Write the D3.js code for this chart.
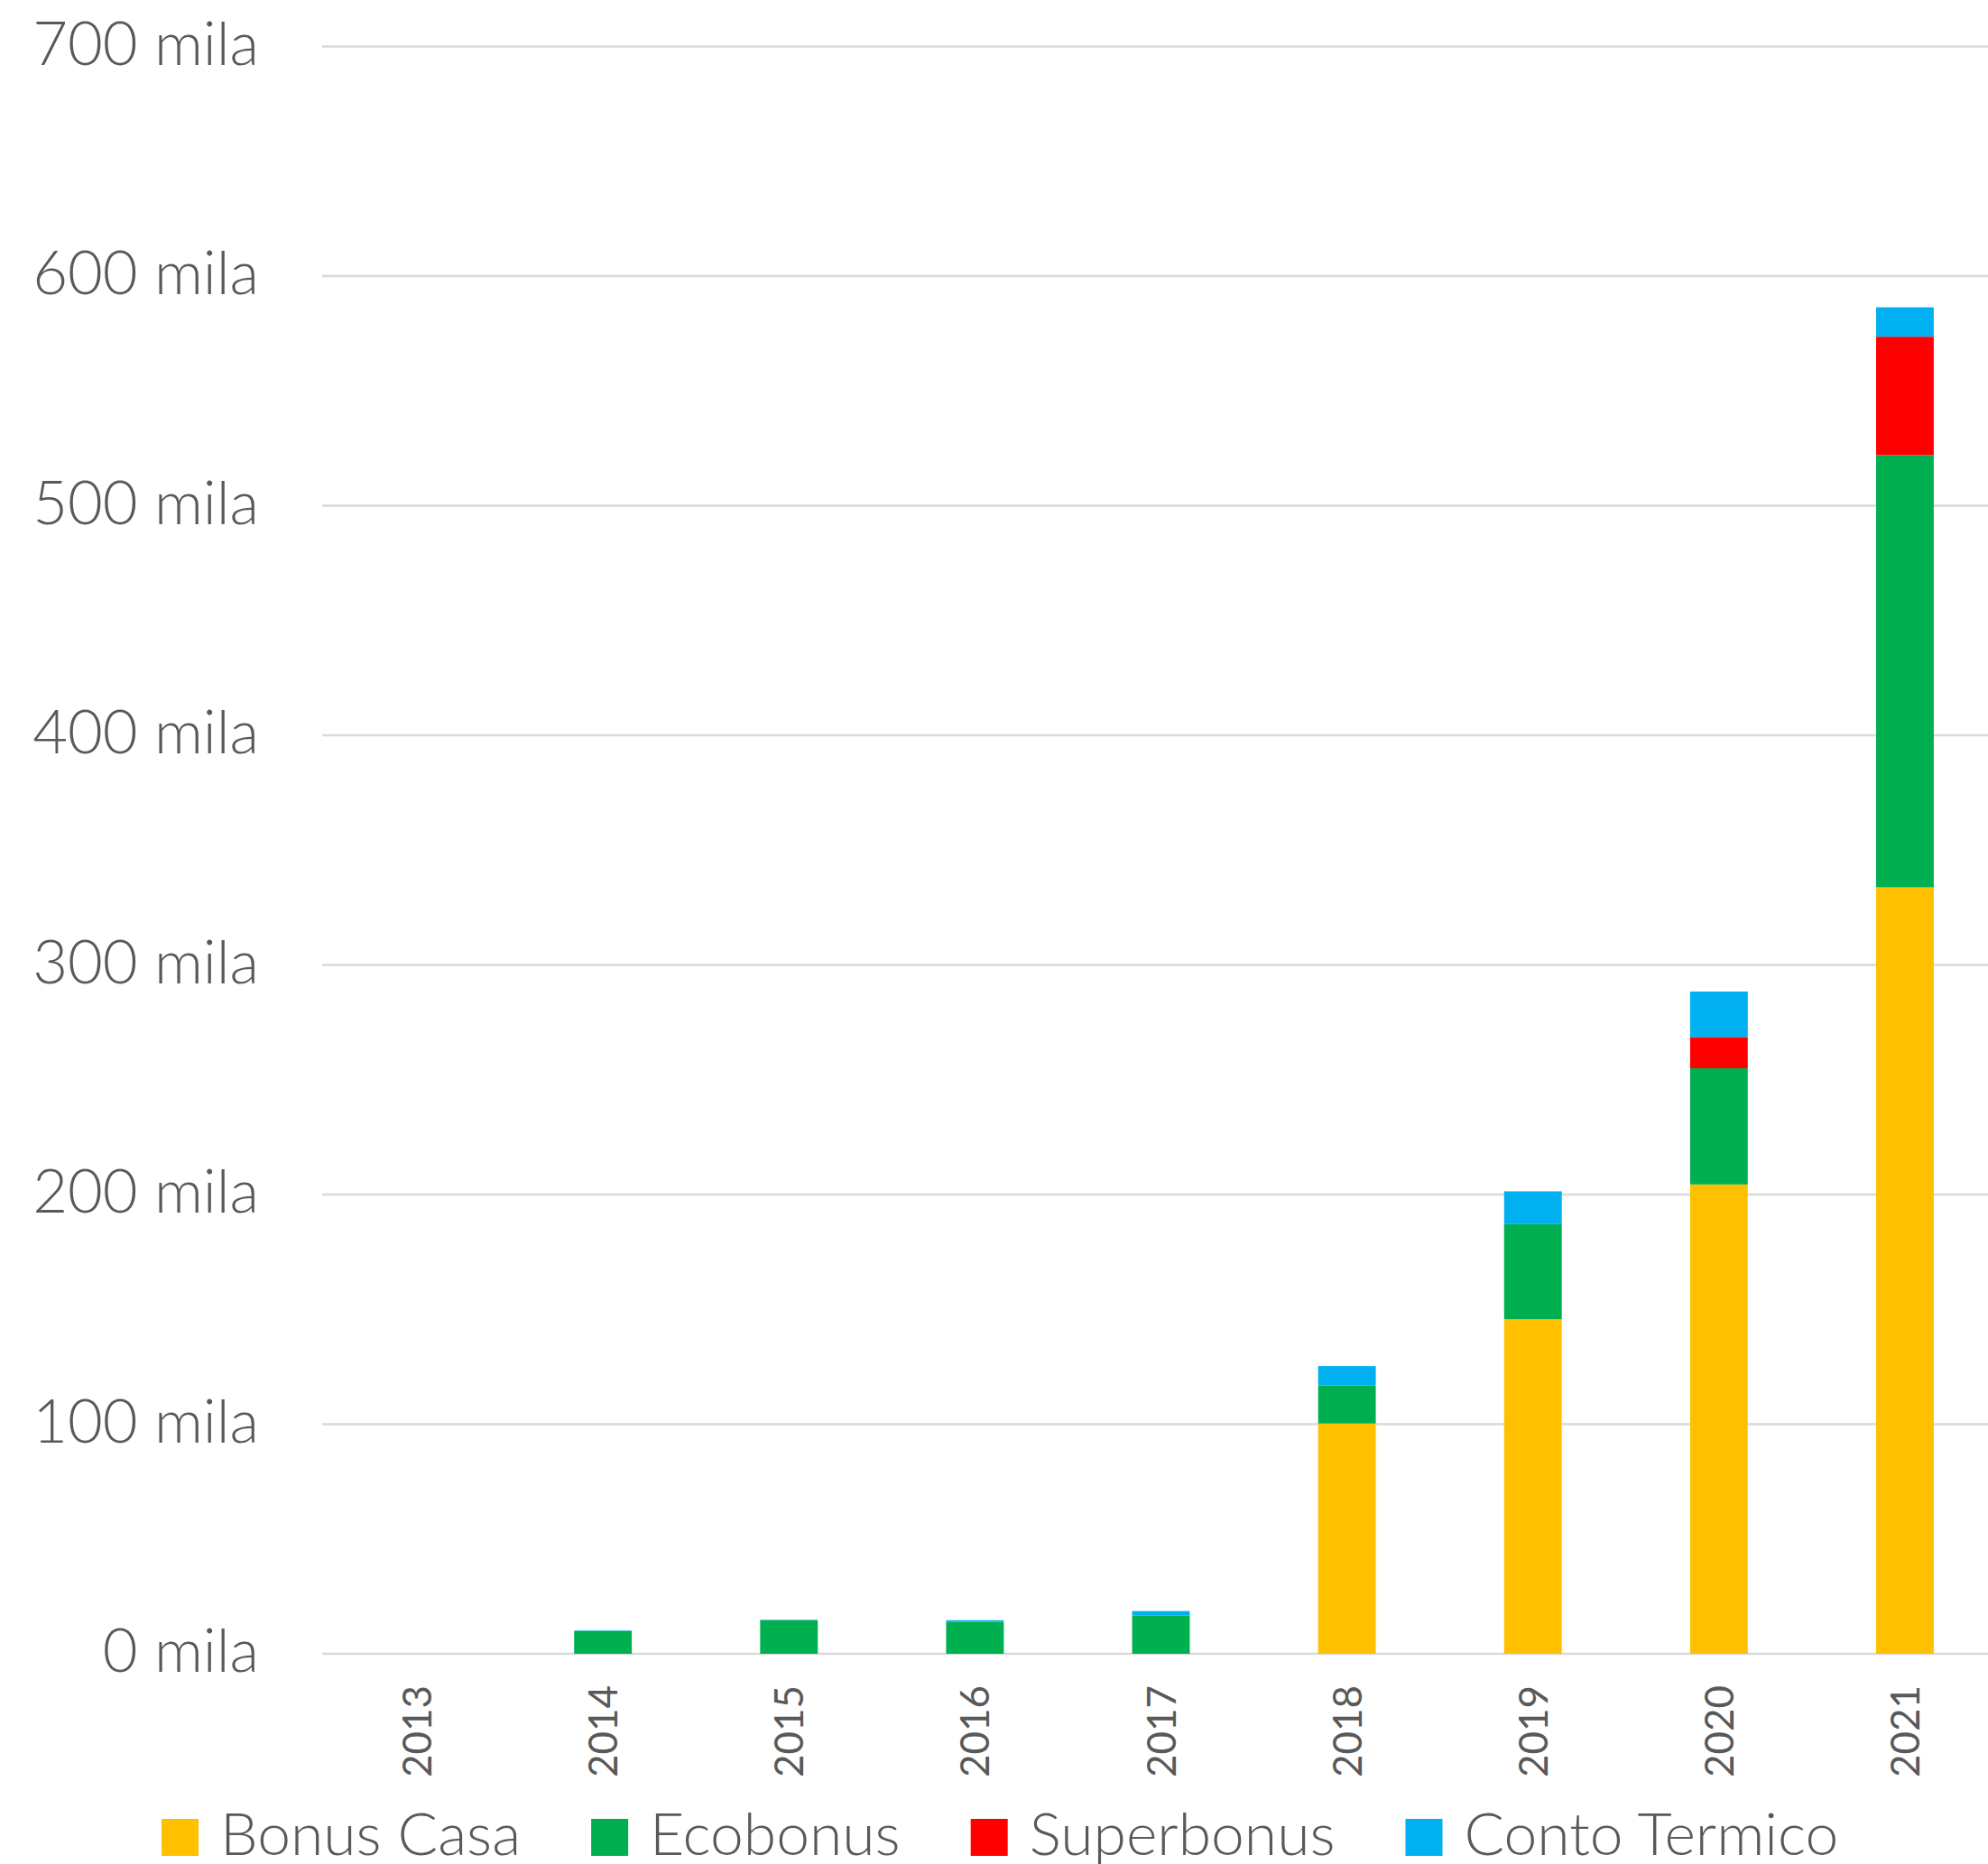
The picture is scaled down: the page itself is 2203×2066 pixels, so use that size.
<!DOCTYPE html>
<html>
<head>
<meta charset="utf-8">
<script src="https://cdn.jsdelivr.net/npm/d3@7"></script>
<style>
  body { margin: 0; background: #fff; }
  text { font-family: Lato, "Open Sans", sans-serif; fill: #595959; }
</style>
</head>
<body>
<script>
/* Incentivi edilizi per anno (migliaia) */

const years = ["2013", "2014", "2015", "2016", "2017", "2018", "2019", "2020", "2021"];
const seriesNames = ["Bonus Casa", "Ecobonus", "Superbonus", "Conto Termico"];
const seriesColors = ["#FFC000", "#00B050", "#FF0000", "#00B0F0"];

const bonusCasa    = [0, 0, 0, 0, 0, 100.3, 145.7, 204.4, 333.8];
const ecobonus     = [0, 10.0, 14.6, 14.0, 16.6, 16.6, 41.4, 50.6, 188.2];
const superbonus   = [0, 0, 0, 0, 0, 0, 0, 13.6, 51.6];
const contoTermico = [0, 0.2, 0.2, 0.6, 2.0, 8.4, 14.3, 19.8, 12.8];

const yTicks = [0, 100, 200, 300, 400, 500, 600, 700];

/* Chart size */

const w = 2203,
      h = 2066,
      plotLeft = 357,
      plotRight = 2203,
      plotTop = 51.5,
      plotBottom = 1833;

const table = years.map((y, i) => ({
  year: y,
  "Bonus Casa": bonusCasa[i],
  "Ecobonus": ecobonus[i],
  "Superbonus": superbonus[i],
  "Conto Termico": contoTermico[i]
}));

const stack = d3.stack().keys(seriesNames)(table);

// band range runs a bit past the right edge, as in the original
const x = d3.scaleBand().domain(years).range([359, 2214]).paddingInner(0.69).paddingOuter(0.345);
const y = d3.scaleLinear().domain([0, 700]).range([plotBottom, plotTop]);
const color = d3.scaleOrdinal().domain(seriesNames).range(seriesColors);

const svg = d3.select("body")
  .append("svg")
  .attr("width", w)
  .attr("height", h);

/* Gridlines */

svg.append("g")
  .selectAll("line")
  .data(yTicks)
  .enter()
  .append("line")
  .attr("x1", plotLeft)
  .attr("x2", plotRight)
  .attr("y1", d => y(d))
  .attr("y2", d => y(d))
  .attr("stroke", "#d9d9d9")
  .attr("stroke-width", 2.5);

/* Y labels */

svg.append("g")
  .selectAll("text")
  .data(yTicks)
  .enter()
  .append("text")
  .attr("x", 287)
  .attr("y", d => y(d) + 20)
  .attr("text-anchor", "end")
  .style("font-size", "67px")
  .style("font-weight", 300)
  .text(d => d + " mila");

/* Bars */

svg.append("g")
  .selectAll("g")
  .data(stack)
  .enter()
  .append("g")
  .attr("fill", d => color(d.key))
  .selectAll("rect")
  .data(d => d)
  .enter()
  .append("rect")
  .attr("x", d => x(d.data.year))
  .attr("y", d => y(d[1]))
  .attr("width", x.bandwidth())
  .attr("height", d => y(d[0]) - y(d[1]));

/* X labels */

svg.append("g")
  .selectAll("text")
  .data(years)
  .enter()
  .append("text")
  .attr("transform", d => "translate(" + (x(d) + x.bandwidth() / 2 + 16) + "," + 1868 + ") rotate(-90)")
  .attr("text-anchor", "end")
  .style("font-size", "44px")
  .text(d => d);

/* Legend */

const legend = svg.append("g").attr("id", "legend");
let lx = 179;
seriesNames.forEach((name, i) => {
  legend.append("rect")
    .attr("x", lx)
    .attr("y", 2016)
    .attr("width", 41)
    .attr("height", 41)
    .attr("fill", seriesColors[i]);
  const t = legend.append("text")
    .attr("x", lx + 65)
    .attr("y", 2056)
    .style("font-size", "66px")
    .style("font-weight", 300)
    .text(name);
  lx = lx + 65 + t.node().getComputedTextLength() + 78;
});
</script>
</body>
</html>
